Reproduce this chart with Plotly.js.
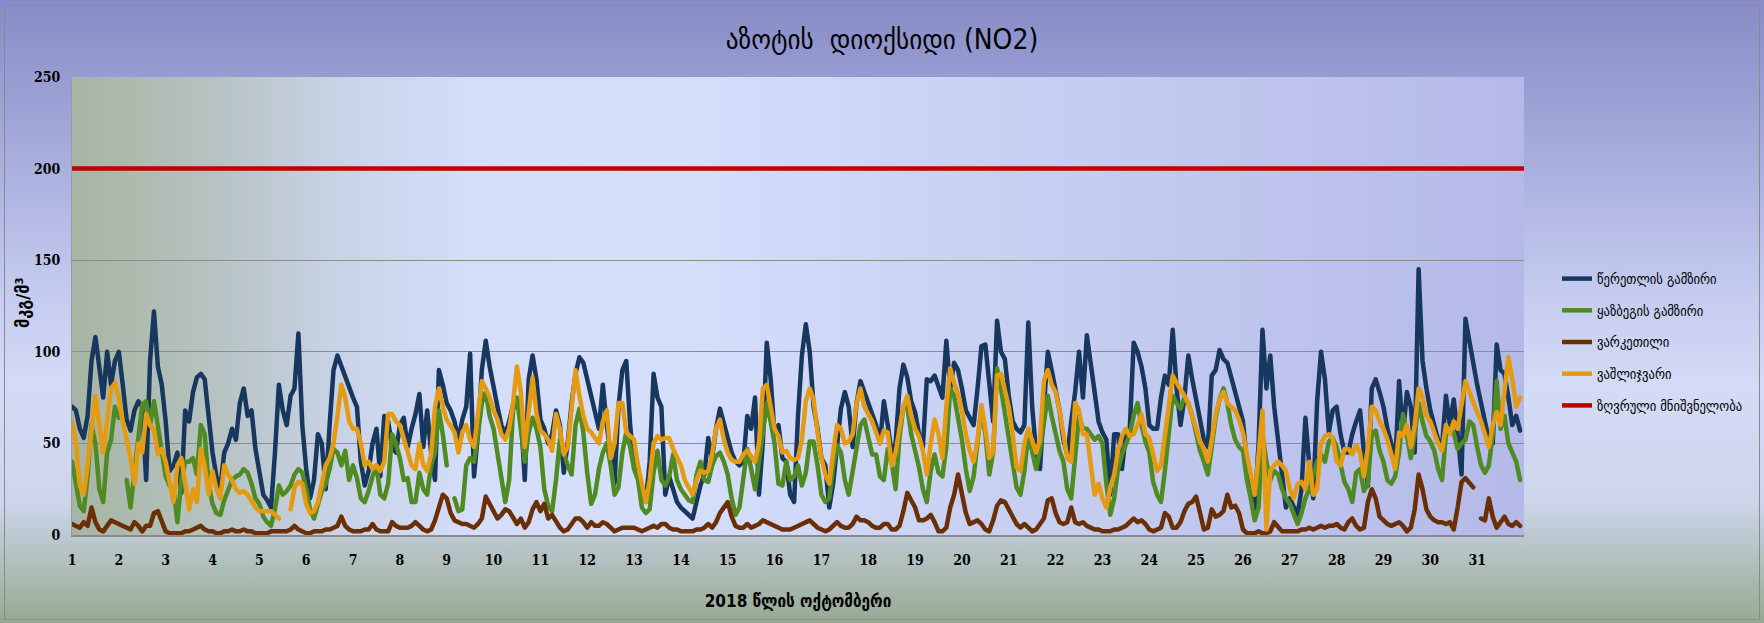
<!DOCTYPE html>
<html>
<head>
<meta charset="utf-8">
<script src="https://cdn.plot.ly/plotly-3.0.1.min.js"></script>
<style>
  html, body { margin: 0; padding: 0; background: #ffffff; }
  #wrap { position: relative; width: 1764px; height: 623px; overflow: hidden;
    background: linear-gradient(to bottom, #878cc6 0%, #9ea3d6 18%, #c2c9ee 45%, #d4dbf6 62%, #cdd6ec 80%, #b2c0bf 90%, #97a991 100%); }
  #plotbg { position: absolute; left: 72px; top: 77px; width: 1452px; height: 458px;
    background: linear-gradient(to right, #a6b5a2 0%, #b6c3c2 10%, #c8d2e6 18%, #d4ddf9 27%, #d5defb 42%, #c8d0f2 65%, #b4b9e8 100%); }
  #chart { position: absolute; left: 0; top: 0; width: 1764px; height: 623px; }
  #frame { position: absolute; left: 4px; top: 5px; width: 1754px; height: 613px; border: 1px solid #8a8a8a; pointer-events: none; }
  .js-plotly-plot .scatterlayer path.js-line { stroke-linejoin: round; stroke-linecap: round; }
</style>
</head>
<body>
<div id="wrap">
  <div id="plotbg"></div>
  <div id="chart"></div>
  <div id="frame"></div>
</div>
<script>
// 2018 October, values every 2 hours (12 per day), µg/m³
const stepHours = 2;
const monthDays = 31;
const dayLabels = ['1','2','3','4','5','6','7','8','9','10','11','12','13','14','15','16','17','18','19','20','21','22','23','24','25','26','27','28','29','30','31'];
const limitValue = 200;

const tsereteli = [
  70, 68, 58, 53, 65, 95, 108, 92, 75, 100, 82, 95,
  100, 82, 63, 57, 68, 73, 70, 30, 95, 122, 92, 82,
  62, 35, 38, 45, 23, 68, 62, 78, 86, 88, 85, 65,
  45, 32, 26, 45, 50, 58, 52, 72, 80, 65, 68, 47,
  33, 22, 19, 15, 45, 82, 68, 60, 76, 80, 110, 60,
  36, 20, 30, 55, 50, 25, 60, 90, 98, 92, 86, 80,
  75, 70, 40, 27, 35, 50, 58, 32, 65, 62, 48, 45,
  60, 64, 48, 58, 66, 77, 48, 68, 45, 30, 90, 82,
  72, 68, 62, 52, 63, 70, 99, 32, 55, 90, 106, 92,
  80, 70, 60, 55, 62, 71, 74, 65, 30, 85, 98, 85,
  63, 58, 50, 55, 68, 60, 34, 50, 72, 88, 97, 94,
  85, 75, 67, 58, 82, 60, 45, 28, 70, 90, 95, 60,
  38, 32, 22, 18, 40, 88, 75, 70, 22, 32, 25, 18,
  15, 13, 11, 9, 18, 27, 33, 53, 42, 58, 69, 60,
  53, 45, 40, 38, 40, 65, 58, 75, 22, 51, 105, 85,
  55, 60, 42, 40, 22, 18, 65, 98, 115, 100, 70, 58,
  42, 38, 15, 28, 49, 69, 78, 70, 48, 72, 84, 78,
  72, 66, 60, 50, 73, 60, 45, 50, 80, 93, 86, 73,
  67, 55, 48, 85, 84, 87, 80, 75, 106, 80, 94, 90,
  80, 68, 64, 60, 80, 103, 104, 82, 62, 117, 100, 96,
  76, 62, 58, 56, 60, 116, 70, 45, 36, 70, 100, 90,
  80, 68, 52, 44, 62, 78, 100, 75, 109, 95, 78, 62,
  56, 52, 22, 55, 55, 36, 55, 58, 105, 100, 92, 80,
  60, 58, 58, 75, 87, 82, 112, 80, 60, 75, 98, 85,
  75, 63, 52, 48, 87, 90, 101, 96, 94, 86, 80, 72,
  62, 40, 25, 14, 50, 112, 80, 98, 70, 50, 30, 15,
  20, 15, 11, 25, 64, 38, 20, 73, 100, 85, 56, 68,
  70, 55, 45, 45, 55, 62, 68, 45, 27, 80, 85, 78,
  70, 58, 50, 38, 84, 55, 78, 70, 45, 145, 95, 80,
  68, 60, 52, 48, 76, 60, 74, 55, 33, 118, 105, 93,
  82, 72, 62, 52, 50, 104, 90, 88, 75, 60, 65, 57
];

const kazbegi = [
  40, 28, 16, 13, 32, 60, 50, 25, 18, 45, 52, 70,
  64, null, 30, 15, 35, 55, 71, 73, 60, 73, 58, 45,
  32, 27, 25, 7, 30, 40, 40, 42, 33, 60, 55, 28,
  17, 12, 11, 19, 24, 30, 32, 33, 36, 34, 28, 20,
  17, 10, 7, 5, 14, 27, 22, 24, 27, 33, 36, 34,
  25, 14, 9, 17, 24, 28, 36, 47, 45, 38, 46, 30,
  38, 31, 20, 18, 24, 32, 38, 22, 20, 28, 55, 50,
  42, 30, 31, 18, 18, 34, 25, 22, 38, 45, 68, 55,
  38, null, 20, 13, 14, 38, 42, 40, 55, 72, 78, 65,
  58, 45, 33, 18, 30, 68, 75, 58, 40, 56, 64, 58,
  48, 25, 16, 13, 30, 52, 44, 38, 33, 60, 69, 56,
  34, 17, 22, 36, 45, 50, 38, 22, 26, 45, 56, 48,
  36, 30, 15, 12, 14, 34, 46, 30, 27, 32, 44, 30,
  25, 22, 19, 18, 33, 40, 30, 29, 38, 43, 45, 40,
  33, 20, 11, 15, 30, 47, 36, 25, 40, 57, 72, 62,
  50, 28, 27, 40, 30, 32, 38, 27, 34, 51, 51, 38,
  22, 18, 20, 37, 49, 45, 30, 22, 35, 47, 60, 63,
  54, 44, 44, 32, 30, 47, 40, 25, 53, 70, 70, 55,
  46, 37, 25, 18, 35, 44, 34, 32, 48, 80, 76, 65,
  52, 36, 24, 32, 50, 69, 55, 33, 45, 91, 80, 66,
  55, 38, 26, 22, 35, 55, 45, 36, 46, 62, 76, 65,
  54, 46, 40, 25, 20, 40, 65, 58, 58, 55, 52, 54,
  50, 28, 11, 20, 36, 44, 50, 55, 65, 72, 60, 51,
  45, 29, 22, 18, 35, 55, 76, 72, 69, 75, 72, 65,
  54, 46, 40, 33, 48, 64, 74, 80, 72, 60, 52, 48,
  46, 30, 20, 8, 15, 55, 40, 30, 35, 33, 25, 20,
  17, 12, 6, 12, 20, 25, 33, 40, 44, 40, 51, 53,
  48, 38, 29, 25, 18, 34, 36, 24, 28, 55, 57, 46,
  40, 30, 28, 32, 45, 66, 54, 42, 55, 72, 62, 54,
  51, 46, 36, 30, 55, 57, 56, 47, 50, 52, 62, 60,
  48, 38, 34, 38, 55, 84, 58, 65, 50, 45, 40, 30
];

const varketili = [
  6, 5, 4, 7, 5, 15, 7, 3, 2, 5, 8, 7,
  6, 5, 4, 3, 7, 5, 2, 5, 5, 12, 13, 7,
  2, 1, 1, 1, 1, 2, 2, 3, 4, 5, 3, 2,
  2, 1, 1, 2, 2, 3, 2, 2, 3, 2, 2, 1,
  1, 1, 1, 2, 2, 2, 2, 2, 3, 5, 3, 2,
  1, 1, 2, 2, 2, 3, 3, 4, 5, 10, 5, 3,
  2, 2, 2, 3, 3, 6, 3, 2, 2, 2, 7, 5,
  4, 4, 4, 5, 7, 5, 3, 2, 3, 8, 16, 22,
  20, 12, 8, 7, 6, 6, 5, 4, 6, 9, 21, 17,
  14, 9, 11, 14, 13, 9, 6, 9, 4, 7, 14, 18,
  13, 17, 9, 11, 7, 4, 2, 3, 6, 9, 9, 7,
  4, 7, 5, 5, 7, 6, 4, 2, 3, 4, 4, 4,
  4, 3, 2, 3, 4, 5, 4, 6, 6, 4, 3, 3,
  2, 2, 2, 2, 3, 3, 4, 6, 4, 7, 12, 15,
  18, 10, 5, 4, 4, 6, 4, 5, 6, 8, 7, 6,
  5, 4, 3, 3, 3, 4, 5, 6, 7, 8, 6, 4,
  3, 2, 3, 5, 7, 5, 4, 4, 6, 10, 8, 8,
  7, 5, 4, 4, 6, 6, 3, 3, 5, 13, 23, 19,
  15, 8, 8, 9, 11, 7, 2, 2, 4, 15, 22, 33,
  22, 12, 6, 7, 8, 6, 3, 2, 8, 16, 19, 18,
  14, 10, 6, 4, 6, 4, 2, 3, 6, 9, 19, 20,
  12, 7, 6, 7, 15, 7, 6, 7, 5, 4, 3, 3,
  2, 2, 2, 3, 3, 4, 5, 7, 9, 7, 8, 6,
  3, 2, 3, 4, 12, 10, 4, 4, 7, 13, 17, 18,
  21, 11, 3, 4, 14, 10, 11, 13, 22, 15, 16, 12,
  3, 1, 1, 1, 2, 1, 1, 2, 7, 4, 2, 2,
  2, 2, 2, 3, 3, 4, 3, 4, 5, 4, 5, 5,
  6, 4, 3, 7, 9, 5, 3, 4, 18, 25, 20, 10,
  8, 6, 5, 6, 7, 5, 2, 4, 14, 33, 25, 14,
  10, 8, 7, 7, 6, 7, 3, 15, 29, 31, 28, 26,
  null, 9, 8, 20, 10, 4, 7, 10, 6, 5, 7, 5
];

const vashlijvari = [
  62, 50, 27, 22, 38, 60, 76, 60, 45, 62, 80, 83,
  75, 62, 52, 42, 28, 50, 45, 66, 60, 57, 44, 47,
  40, 30, 18, 38, 42, 28, 14, 25, 18, 47, 38, 22,
  35, 25, 20, 38, 33, 30, 25, 23, 24, 22, 18, 15,
  13, 13, 13, 13, 11, 9, null, null, 14, 26, 29, 28,
  17, 12, 13, 18, 28, 38, 42, 50, 65, 82, 75, 62,
  58, 58, 50, 38, 40, 36, 38, 35, 40, 66, 66, 62,
  60, 52, 45, 38, 36, 50, 38, 35, 44, 70, 80, 70,
  63, 60, 56, 45, 56, 60, 52, 48, 66, 84, 80, 75,
  68, 63, 55, 52, 58, 72, 92, 78, 48, 70, 86, 66,
  57, 55, 52, 46, 66, 58, 44, 48, 70, 90, 76, 65,
  58, 56, 53, 50, 62, 68, 42, 50, 72, 72, 56, 54,
  52, 38, 27, 18, 30, 50, 54, 52, 53, 53, 47, 42,
  38, 30, 26, 22, 30, 35, 34, 35, 44, 58, 63, 52,
  45, 41, 40, 40, 44, 46, 43, 40, 50, 80, 82, 69,
  58, 54, 45, 46, 42, 41, 42, 52, 73, 80, 74, 56,
  42, 33, 28, 45, 60, 58, 50, 51, 55, 72, 80, 70,
  66, 62, 56, 50, 57, 56, 38, 45, 58, 70, 76, 65,
  58, 54, 46, 33, 50, 63, 55, 42, 70, 91, 83, 77,
  68, 55, 46, 40, 52, 71, 58, 42, 45, 87, 88, 78,
  70, 55, 37, 35, 50, 58, 52, 45, 52, 84, 90, 82,
  78, 68, 55, 42, 40, 72, 68, 55, 55, 40, 22, 28,
  20, 15, 26, 33, 46, 54, 58, 54, 55, 60, 66, 55,
  53, 44, 35, 38, 55, 72, 87, 83, 80, 76, 72, 65,
  56, 51, 47, 40, 52, 66, 74, 78, 72, 70, 68, 63,
  56, 44, 34, 22, 44, 68, 3, 35, 38, 40, 38, 35,
  25, 20, 28, 29, 25, 40, 22, 25, 50, 54, 55, 53,
  40, 38, 47, 47, 44, 49, 45, 32, 48, 70, 68, 62,
  58, 52, 44, 36, 56, 54, 60, 48, 60, 80, 75, 65,
  62, 56, 50, 46, 60, 55, 62, 58, 72, 84, 78, 72,
  67, 62, 55, 48, 60, 67, 60, 80, 97, 85, 70, 75
];

const seriesNames = ['წერეთლის გამზირი', 'ყაზბეგის გამზირი', 'ვარკეთილი', 'ვაშლიჯვარი', 'ზღვრული მნიშვნელობა'];
const seriesColors = ['#17375e', '#4f8a22', '#6b2f06', '#e49b12', '#c00000'];

const timeDays = tsereteli.map((_, i) => i * stepHours / 24);
const dayTicks = dayLabels.map((_, i) => i);

const fontFam = '"DejaVu Sans Condensed", "DejaVu Sans", sans-serif';
const numFam = '"DejaVu Serif Condensed", "DejaVu Serif", serif';

const seriesData = [tsereteli, kazbegi, varketili, vashlijvari];
const traces = seriesData.map((vals, i) => ({
  x: timeDays, y: vals, type: 'scatter', mode: 'lines', name: seriesNames[i],
  legendgroup: 'g' + i, connectgaps: false,
  line: { color: seriesColors[i], width: 4.5 }
}));
traces.push({
  x: [0, monthDays], y: [limitValue, limitValue], type: 'scatter', mode: 'lines',
  name: seriesNames[4], legendgroup: 'g4',
  line: { color: seriesColors[4], width: 4.5 }
});

const layout = {
  width: 1764, height: 623,
  paper_bgcolor: 'rgba(0,0,0,0)', plot_bgcolor: 'rgba(0,0,0,0)',
  margin: { l: 72, r: 240, t: 77, b: 88 },
  title: { text: 'აზოტის  დიოქსიდი (NO2)', x: 0.5, xref: 'container', y: 1 - 39 / 623, yref: 'container',
           xanchor: 'center', yanchor: 'middle', font: { family: fontFam, size: 28, color: '#000' } },
  xaxis: {
    range: [0, monthDays], tickvals: dayTicks, ticktext: dayLabels, ticks: '',
    showgrid: false, zeroline: false, showline: true, linecolor: '#8a8a8a', linewidth: 1.5,
    ticklabelstandoff: 12,
    tickfont: { family: numFam, size: 14, color: '#000', weight: 'bold' },
    title: { text: '2018 წლის ოქტომბერი', standoff: 28, font: { family: fontFam, size: 17, color: '#000', weight: 'bold' } }
  },
  yaxis: {
    range: [0, 250], dtick: 50, tick0: 0, ticks: '',
    showgrid: true, gridcolor: '#8c8c8c', gridwidth: 1.2, zeroline: false,
    showline: true, linecolor: '#9a9aa8', linewidth: 1,
    ticklabelstandoff: 8,
    tickfont: { family: numFam, size: 14, color: '#000', weight: 'bold' }
  },
  annotations: [{
    text: 'მკგ/მ³', textangle: -90, showarrow: false,
    xref: 'paper', x: (22 - 72) / 1452, xanchor: 'center',
    yref: 'paper', y: (535 - 303) / 458, yanchor: 'middle',
    font: { family: fontFam, size: 18, color: '#000', weight: 'bold' }
  }],
  showlegend: true,
  legend: {
    x: 1557 / 1764, xref: 'container', xanchor: 'left',
    y: 1 - 263 / 623, yref: 'container', yanchor: 'top',
    bgcolor: 'rgba(0,0,0,0)', borderwidth: 0,
    tracegroupgap: 10.5,
    font: { family: fontFam, size: 14, color: '#000' }
  }
};

Plotly.newPlot('chart', traces, layout, { staticPlot: true, displayModeBar: false });
</script>
</body>
</html>
